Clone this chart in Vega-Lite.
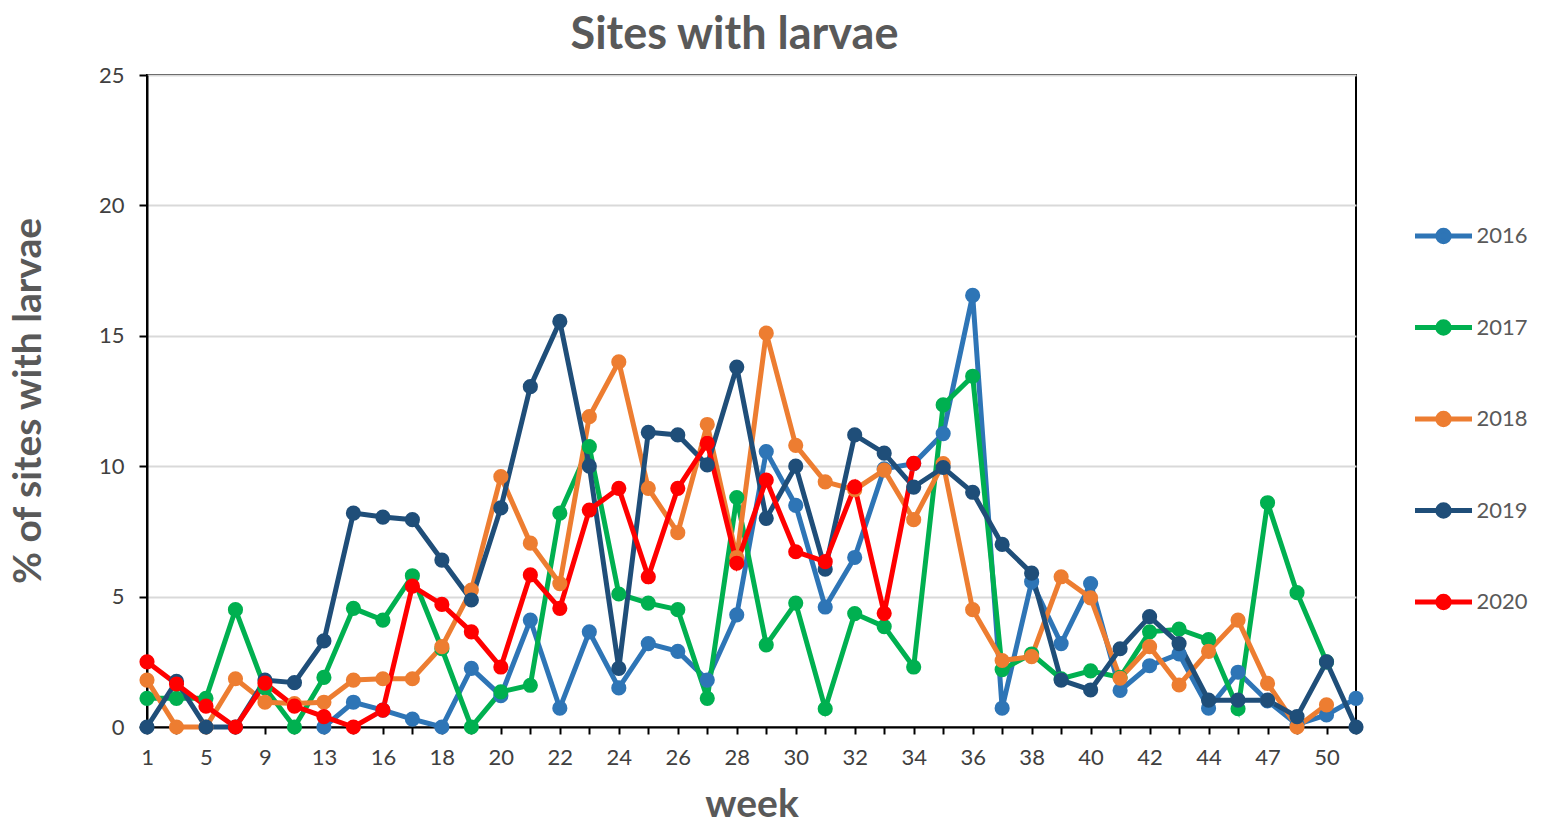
{
  "$schema": "https://vega.github.io/schema/vega-lite/v6.json",
  "width": 1209,
  "height": 652,
  "autosize": "none",
  "padding": {"left": 147, "top": 75, "right": 186, "bottom": 96},
  "background": "white",
  "title": {
    "text": "Sites with larvae",
    "font": "Lato, Open Sans, sans-serif",
    "fontSize": 45,
    "fontWeight": "bold",
    "color": "#595959",
    "anchor": "middle",
    "frame": "group",
    "baseline": "alphabetic",
    "offset": 9,
    "dx": -17,
    "dy": 39
  },
  "data": {
    "values": [
      {"week": 1, "2016": null, "2017": 1.1, "2018": 1.8, "2019": 0, "2020": 2.5},
      {"week": 3, "2016": null, "2017": 1.1, "2018": 0, "2019": 1.75, "2020": 1.65},
      {"week": 5, "2016": null, "2017": 1.1, "2018": 0, "2019": 0, "2020": 0.8},
      {"week": 7, "2016": null, "2017": 4.5, "2018": 1.85, "2019": 0, "2020": 0},
      {"week": 9, "2016": null, "2017": 1.5, "2018": 0.95, "2019": 1.8, "2020": 1.68},
      {"week": 11, "2016": null, "2017": 0, "2018": 0.9, "2019": 1.7, "2020": 0.8},
      {"week": 13, "2016": 0, "2017": 1.9, "2018": 0.95, "2019": 3.3, "2020": 0.4},
      {"week": 14, "2016": 0.95, "2017": 4.55, "2018": 1.8, "2019": 8.2, "2020": 0},
      {"week": 16, "2016": 0.65, "2017": 4.1, "2018": 1.85, "2019": 8.05, "2020": 0.65},
      {"week": 17, "2016": 0.3, "2017": 5.8, "2018": 1.85, "2019": 7.95, "2020": 5.4},
      {"week": 18, "2016": 0, "2017": 3.0, "2018": 3.08, "2019": 6.4, "2020": 4.7},
      {"week": 19, "2016": 2.25, "2017": 0, "2018": 5.25, "2019": 4.87, "2020": 3.65},
      {"week": 20, "2016": 1.2, "2017": 1.35, "2018": 9.6, "2019": 8.4, "2020": 2.3},
      {"week": 21, "2016": 4.1, "2017": 1.6, "2018": 7.05, "2019": 13.05, "2020": 5.83},
      {"week": 22, "2016": 0.72, "2017": 8.2, "2018": 5.5, "2019": 15.55, "2020": 4.55},
      {"week": 23, "2016": 3.65, "2017": 10.75, "2018": 11.9, "2019": 10.0, "2020": 8.32},
      {"week": 24, "2016": 1.5, "2017": 5.1, "2018": 14.0, "2019": 2.25, "2020": 9.15},
      {"week": 25, "2016": 3.2, "2017": 4.75, "2018": 9.15, "2019": 11.3, "2020": 5.76},
      {"week": 26, "2016": 2.9, "2017": 4.5, "2018": 7.45, "2019": 11.2, "2020": 9.15},
      {"week": 27, "2016": 1.8, "2017": 1.1, "2018": 11.6, "2019": 10.05, "2020": 10.88},
      {"week": 28, "2016": 4.3, "2017": 8.8, "2018": 6.5, "2019": 13.8, "2020": 6.28},
      {"week": 29, "2016": 10.56, "2017": 3.15, "2018": 15.1, "2019": 8.0, "2020": 9.47},
      {"week": 30, "2016": 8.5, "2017": 4.75, "2018": 10.8, "2019": 10.0, "2020": 6.72},
      {"week": 31, "2016": 4.6, "2017": 0.7, "2018": 9.4, "2019": 6.05, "2020": 6.34},
      {"week": 32, "2016": 6.5, "2017": 4.35, "2018": 9.1, "2019": 11.2, "2020": 9.21},
      {"week": 33, "2016": 9.9, "2017": 3.85, "2018": 9.85, "2019": 10.5, "2020": 4.36},
      {"week": 34, "2016": 10.1, "2017": 2.3, "2018": 7.95, "2019": 9.2, "2020": 10.11},
      {"week": 35, "2016": 11.25, "2017": 12.35, "2018": 10.1, "2019": 9.95, "2020": null},
      {"week": 36, "2016": 16.55, "2017": 13.45, "2018": 4.5, "2019": 9.0, "2020": null},
      {"week": 37, "2016": 0.72, "2017": 2.2, "2018": 2.55, "2019": 7.0, "2020": null},
      {"week": 38, "2016": 5.57, "2017": 2.8, "2018": 2.7, "2019": 5.9, "2020": null},
      {"week": 39, "2016": 3.2, "2017": 1.85, "2018": 5.76, "2019": 1.8, "2020": null},
      {"week": 40, "2016": 5.5, "2017": 2.15, "2018": 4.95, "2019": 1.42, "2020": null},
      {"week": 41, "2016": 1.4, "2017": 1.9, "2018": 1.87, "2019": 3.0, "2020": null},
      {"week": 42, "2016": 2.35, "2017": 3.65, "2018": 3.08, "2019": 4.23, "2020": null},
      {"week": 43, "2016": 2.8, "2017": 3.75, "2018": 1.61, "2019": 3.2, "2020": null},
      {"week": 44, "2016": 0.72, "2017": 3.35, "2018": 2.9, "2019": 1.03, "2020": null},
      {"week": 45, "2016": 2.1, "2017": 0.7, "2018": 4.1, "2019": 1.03, "2020": null},
      {"week": 47, "2016": 1.0, "2017": 8.6, "2018": 1.67, "2019": 1.03, "2020": null},
      {"week": 48, "2016": 0.1, "2017": 5.15, "2018": 0, "2019": 0.4, "2020": null},
      {"week": 50, "2016": 0.46, "2017": 2.5, "2018": 0.85, "2019": 2.5, "2020": null},
      {"week": 51, "2016": 1.1, "2017": null, "2018": null, "2019": 0, "2020": null}
    ]
  },
  "transform": [
    {"fold": ["2016", "2017", "2018", "2019", "2020"], "as": ["year", "value"]}
  ],
  "mark": {
    "type": "line",
    "strokeWidth": 5,
    "point": {"filled": true, "size": 230, "opacity": 1}
  },
  "encoding": {
    "x": {
      "field": "week",
      "type": "ordinal",
      "scale": {"type": "point", "padding": 0},
      "axis": {
        "title": "week",
        "titleFont": "Lato, Open Sans, sans-serif",
        "titleFontSize": 39,
        "titleFontWeight": "bold",
        "titleColor": "#595959",
        "titleX": 604.5,
        "titleY": 89,
        "titleAlign": "center",
        "titleBaseline": "alphabetic",
        "labelAngle": 0,
        "labelFont": "Lato, Open Sans, sans-serif",
        "labelFontSize": 22,
        "labelColor": "#404040",
        "labelOverlap": false,
        "labelExpr": "indexof([1,5,9,13,16,18,20,22,24,26,28,30,32,34,36,38,40,42,44,47,50], datum.value) >= 0 ? datum.label : ''",
        "labelPadding": 13,
        "domainColor": "black",
        "domainWidth": 2,
        "tickColor": "black",
        "tickWidth": 2,
        "tickSize": 7,
        "grid": false
      }
    },
    "y": {
      "field": "value",
      "type": "quantitative",
      "scale": {"domain": [0, 25], "nice": false},
      "axis": {
        "title": "% of sites with larvae",
        "titleFont": "Lato, Open Sans, sans-serif",
        "titleFontSize": 39,
        "titleFontWeight": "bold",
        "titleColor": "#595959",
        "titleAngle": -90,
        "titleX": -107,
        "titleY": 325.5,
        "titleAlign": "center",
        "titleBaseline": "alphabetic",
        "values": [0, 5, 10, 15, 20, 25],
        "labelFont": "Lato, Open Sans, sans-serif",
        "labelFontSize": 22,
        "labelColor": "#404040",
        "labelPadding": 15,
        "domainColor": "black",
        "domainWidth": 2,
        "tickColor": "black",
        "tickWidth": 2,
        "tickSize": 8,
        "gridColor": "#d9d9d9",
        "gridWidth": 2
      }
    },
    "color": {
      "field": "year",
      "type": "nominal",
      "scale": {
        "domain": ["2016", "2017", "2018", "2019", "2020"],
        "range": ["#2E75B6", "#00B050", "#ED7D31", "#1F4E79", "#FF0000"]
      },
      "legend": {
        "title": null,
        "orient": "none",
        "legendX": 1265.5,
        "legendY": 130,
        "padding": 0,
        "symbolType": "M-1,0H1M0.2,0A0.2,0.2,0,1,1,-0.2,0A0.2,0.2,0,1,1,0.2,0Z",
        "symbolSize": 3249,
        "symbolStrokeWidth": 5,
        "labelFont": "Lato, Open Sans, sans-serif",
        "labelFontSize": 22,
        "labelColor": "#595959",
        "labelOffset": 2,
        "rowPadding": 44.5,
        "encode": {
          "symbols": {
            "update": {
              "fill": {"scale": "color", "field": "value"},
              "stroke": {"scale": "color", "field": "value"},
              "opacity": {"value": 1}
            }
          }
        }
      }
    }
  },
  "config": {
    "view": {"stroke": "black", "strokeWidth": 2}
  }
}
